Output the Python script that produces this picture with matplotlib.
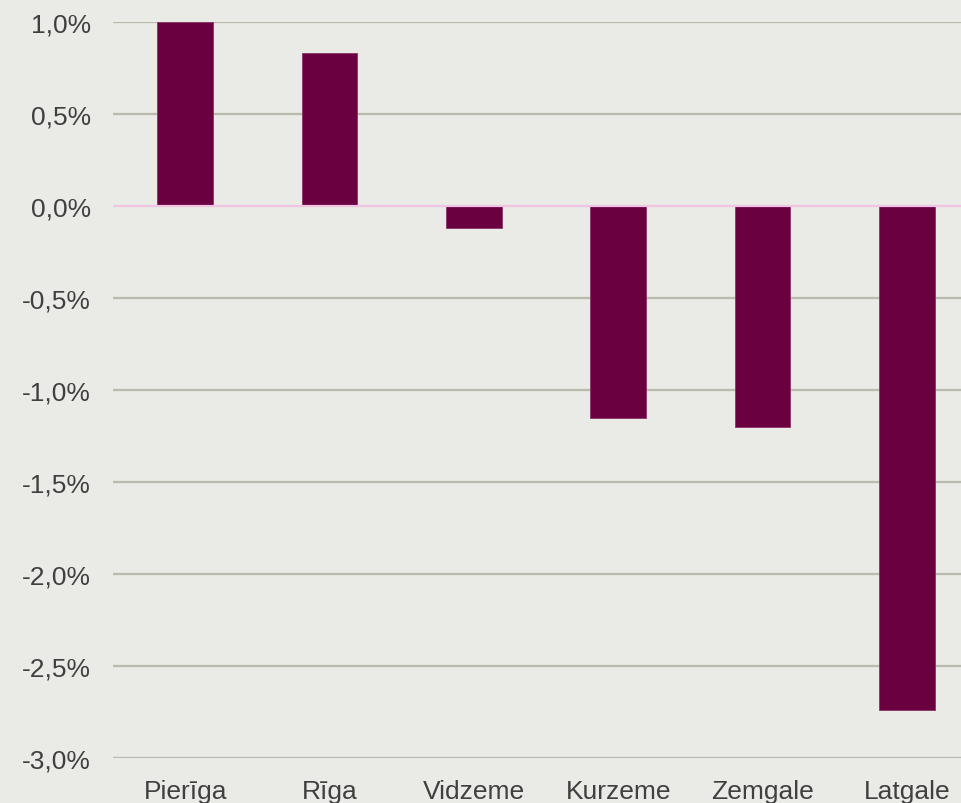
import matplotlib.pyplot as plt
import numpy as np

regions = ['Pierīga', 'Rīga', 'Vidzeme', 'Kurzeme', 'Zemgale', 'Latgale']
change = [1.0, 0.83, -0.12, -1.15, -1.20, -2.74]
yticks = [1.0, 0.5, 0.0, -0.5, -1.0, -1.5, -2.0, -2.5, -3.0]

bg = '#EAEAE6'
plt.rcParams['font.family'] = ['Liberation Sans', 'DejaVu Sans']

fig = plt.figure(figsize=(9.62, 8.04), dpi=100, facecolor=bg)
# axes runs past the right edge like the original
ax = fig.add_axes([113/962, 45/804, 866/962, 736/804], facecolor=bg)

x = np.arange(len(regions))
ax.bar(x, change, width=0.385, color='#6B0040', edgecolor='#8A3366', linewidth=0.6, zorder=3)

ax.set_xlim(-0.5, len(regions) - 0.5)
ax.set_ylim(-3.0, 1.0)
ax.set_yticks(yticks)
ax.set_yticklabels([('%.1f%%' % v).replace('.', ',') for v in yticks])
ax.set_xticks(x)
ax.set_xticklabels(regions)

for v in yticks:
    if v != 0:
        ax.axhline(v, color='#B9B9AC', linewidth=1.6, zorder=1)
ax.axhline(0, color='#F2C4E4', linewidth=1.6, zorder=4)

for s in ax.spines.values():
    s.set_visible(False)
ax.tick_params(axis='both', length=0, labelsize=19, colors='#404040')
ax.tick_params(axis='y', pad=16)
ax.tick_params(axis='x', pad=15)

fig.savefig('out.png', dpi=100, facecolor=bg)
